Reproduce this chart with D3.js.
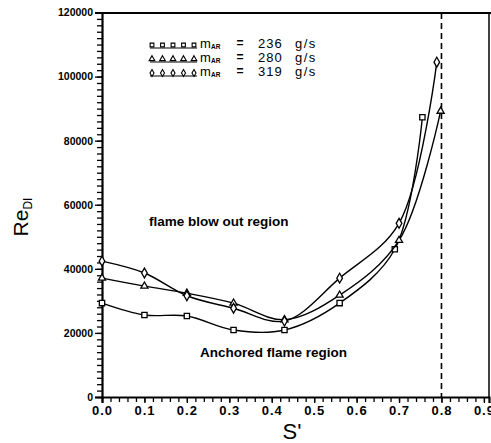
<!DOCTYPE html>
<html>
<head>
<meta charset="utf-8">
<script src="https://cdn.jsdelivr.net/npm/d3@7"></script>
<style>
  body { margin: 0; background: #fff; }
  svg { display: block; font-family: Arial, "Liberation Sans", sans-serif; }
</style>
</head>
<body>
<div class="chart"></div>
<script>
const width = 491;
const height = 443;

// swirl number S' and Reynolds number Re_DI
const s236 = [0, 0.1, 0.2, 0.31, 0.43, 0.56, 0.69, 0.755];
const re236 = [29300, 25600, 25300, 20900, 20900, 29300, 46100, 87300];
const s280 = [0, 0.1, 0.2, 0.31, 0.43, 0.56, 0.7, 0.798];
const re280 = [37100, 34600, 32400, 29300, 24100, 31800, 48900, 89200];
const s319 = [0, 0.1, 0.2, 0.31, 0.43, 0.56, 0.7, 0.789];
const re319 = [42400, 38700, 31600, 27700, 23700, 37100, 54200, 104500];

const flowRates = ['236', '280', '319'];
const yTicks = [0, 20000, 40000, 60000, 80000, 100000, 120000];
const xTicks = [0, 0.1, 0.2, 0.3, 0.4, 0.5, 0.6, 0.7, 0.8, 0.9];
const blowoutLimit = 0.8;

const series = [
  {label: flowRates[0], s: s236, re: re236, symbol: d3.symbolSquare, size: 28},
  {label: flowRates[1], s: s280, re: re280, symbol: d3.symbolTriangle, size: 22},
  {label: flowRates[2], s: s319, re: re319, symbol: d3.symbolDiamond, size: 28}
];

const plotLeft = 102, plotRight = 489, plotTop = 13, plotBottom = 397;

const x = d3.scaleLinear().domain([0, 0.912]).range([plotLeft, plotRight]);
const y = d3.scaleLinear().domain([0, 120000]).range([plotBottom, 12.5]);

const svg = d3
    .select('div.chart')
    .append('svg')
    .attr('width', width)
    .attr('height', height);

// frame: top and right
svg.append('line')
    .attr('x1', plotLeft).attr('x2', width).attr('y1', plotTop).attr('y2', plotTop)
    .attr('stroke', '#000').attr('stroke-width', 2);
svg.append('line')
    .attr('x1', plotRight).attr('x2', plotRight).attr('y1', plotTop).attr('y2', plotBottom)
    .attr('stroke', '#000').attr('stroke-width', 1.5);

// y axis, minor then major
svg.append('g')
    .attr('transform', `translate(${plotLeft},0)`)
    .call(d3.axisLeft(y).tickValues(d3.range(0, 120001, 2000)).tickSize(5).tickFormat(''))
    .call((g) => g.select('.domain').remove());

const yAxis = svg.append('g')
    .attr('transform', `translate(${plotLeft},0)`)
    .call(d3.axisLeft(y).tickValues(yTicks).tickSize(7).tickPadding(2).tickFormat(d3.format('d')));
yAxis.select('.domain').attr('stroke-width', 2.2);
yAxis.selectAll('text')
    .attr('font-size', 10.5)
    .attr('font-weight', 'bold')
    .attr('fill', '#000');

// x axis, minor then major
svg.append('g')
    .attr('transform', `translate(0,${plotBottom})`)
    .call(d3.axisBottom(x).tickValues(d3.range(0, 0.911, 0.02)).tickSize(5).tickFormat(''))
    .call((g) => g.select('.domain').remove());

const xAxis = svg.append('g')
    .attr('transform', `translate(0,${plotBottom})`)
    .call(d3.axisBottom(x).tickValues(xTicks).tickSize(6).tickPadding(3).tickFormat(d3.format('.1f')));
xAxis.select('.domain').attr('stroke-width', 2.2);
xAxis.selectAll('text')
    .attr('font-size', 13)
    .attr('font-weight', 'bold')
    .attr('letter-spacing', 1)
    .attr('fill', '#000');
svg.selectAll('.tick line').attr('stroke-width', 1.3);

// axis titles
svg.append('text')
    .attr('x', 292)
    .attr('y', 439)
    .attr('text-anchor', 'middle')
    .attr('font-size', 22)
    .text('S\'');

const yTitle = svg.append('text')
    .attr('transform', 'translate(28,217) rotate(-90)')
    .attr('text-anchor', 'middle')
    .attr('font-size', 21);
yTitle.append('tspan').text('Re');
yTitle.append('tspan').attr('font-size', 12).attr('dy', 4).text('DI');

// blow-out limit
svg.append('line')
    .attr('x1', x(blowoutLimit)).attr('x2', x(blowoutLimit))
    .attr('y1', plotTop).attr('y2', plotBottom)
    .attr('stroke', '#000')
    .attr('stroke-width', 1.6)
    .attr('stroke-dasharray', '6,4');

// curves
const line = d3.line()
    .x((d) => x(d[0]))
    .y((d) => y(d[1]))
    .curve(d3.curveCatmullRom.alpha(0.5));

series.forEach(function(d) {
  const pts = d.s.map((s, i) => [s, d.re[i]]);
  svg.append('path')
      .datum(pts)
      .attr('d', line)
      .attr('fill', 'none')
      .attr('stroke', '#000')
      .attr('stroke-width', 1.4);

  svg.selectAll(null)
      .data(pts)
      .enter()
      .append('path')
      .attr('transform', (p) => `translate(${x(p[0])},${y(p[1])})`)
      .attr('d', d3.symbol().type(d.symbol).size(d.size))
      .attr('fill', '#fff')
      .attr('stroke', '#000')
      .attr('stroke-width', 1.3);
});

// legend
series.forEach(function(d, i) {
  const base = 48 + i * 14;
  const g = svg.append('g');
  g.append('line')
      .attr('x1', 150).attr('x2', 197)
      .attr('y1', base).attr('y2', base)
      .attr('stroke', '#000').attr('stroke-width', 1.2);
  d3.range(5).forEach(function(k) {
    g.append('path')
        .attr('transform', `translate(${152 + k * 10.5},${base - 3})`)
        .attr('d', d3.symbol().type(d.symbol).size(14))
        .attr('fill', '#fff')
        .attr('stroke', '#000')
        .attr('stroke-width', 1.1);
  });
  g.append('text')
      .attr('x', 200)
      .attr('y', base)
      .attr('font-size', 13)
      .text('m');
  g.append('text')
      .attr('x', 211)
      .attr('y', base + 1)
      .attr('font-size', 6.5)
      .attr('font-weight', 'bold')
      .text('AR');
  g.append('text')
      .attr('x', 240).attr('y', base - 1)
      .attr('text-anchor', 'middle')
      .attr('font-size', 12)
      .attr('font-weight', 'bold')
      .text('=');
  g.append('text')
      .attr('x', 258).attr('y', base)
      .attr('font-size', 13)
      .attr('letter-spacing', 1)
      .text(d.label);
  g.append('text')
      .attr('x', 295).attr('y', base)
      .attr('font-size', 13)
      .attr('letter-spacing', 1.5)
      .text('g/s');
});

// region labels
svg.append('text')
    .attr('x', 149).attr('y', 226)
    .attr('font-size', 13.5)
    .attr('font-weight', 'bold')
    .text('flame blow out region');
svg.append('text')
    .attr('x', 200).attr('y', 357)
    .attr('font-size', 13.5)
    .attr('font-weight', 'bold')
    .text('Anchored flame region');
</script>
</body>
</html>
